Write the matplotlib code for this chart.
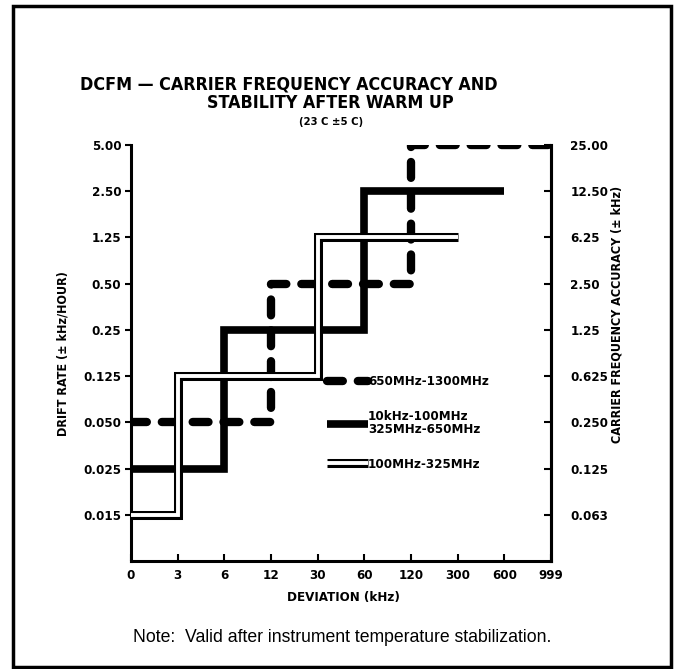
import numpy as np
import matplotlib
matplotlib.use("Agg")
import matplotlib.pyplot as plt
from matplotlib import font_manager
from matplotlib.patches import Rectangle
from matplotlib.legend_handler import HandlerTuple

# axis categories (equally spaced on the chart)
x_labels = ['0', '3', '6', '12', '30', '60', '120', '300', '600', '999']
y_left_labels = ['0.015', '0.025', '0.050', '0.125', '0.25', '0.50', '1.25', '2.50', '5.00']
y_right_labels = ['0.063', '0.125', '0.250', '0.625', '1.25', '2.50', '6.25', '12.50', '25.00']

# step series: x given as deviation label, y as drift-rate label
hi_band_x = ['0', '12', '12', '120', '120', '999']
hi_band_y = ['0.050', '0.050', '0.50', '0.50', '5.00', '5.00']

mid_band_x = ['0', '6', '6', '60', '60', '600']
mid_band_y = ['0.025', '0.025', '0.25', '0.25', '2.50', '2.50']

lo_band_x = ['0', '3', '3', '30', '30', '300']
lo_band_y = ['0.015', '0.015', '0.125', '0.125', '1.25', '1.25']

# pick a condensed bold face if one is installed
fonts = font_manager.fontManager.ttflist
if any(f.name == 'Liberation Sans Narrow' for f in fonts):
    cond = dict(family='Liberation Sans Narrow', fontstretch='normal')
    k = 1.0
elif any(f.name == 'DejaVu Sans' and f.stretch == 'condensed' for f in fonts):
    cond = dict(family='DejaVu Sans', fontstretch='condensed')
    k = 0.95
else:
    cond = dict(family='Liberation Sans', fontstretch='normal')
    k = 0.9
plt.rcParams['font.family'] = [cond['family'], 'DejaVu Sans']

def xi(labels):
    return [x_labels.index(v) for v in labels]

def yi(labels):
    return [y_left_labels.index(v) + 1 for v in labels]

W, H = 676, 669
fig = plt.figure(figsize=(W / 100, H / 100), dpi=100)

def fx(px):
    return px / W

def fy(py):
    return 1 - py / H

ax = fig.add_axes([fx(131), fy(561), fx(551) - fx(131), fy(145) - fy(561)])
ax.set_xlim(0, 9)
ax.set_ylim(0, 9)

# 650MHz-1300MHz dashed
l1, = ax.plot(xi(hi_band_x), yi(hi_band_y), color='black', lw=6, ls=(0, (1.9, 1.8)),
              dash_capstyle='round', solid_joinstyle='miter', zorder=3)
# 10kHz-100MHz / 325MHz-650MHz thick solid
l2, = ax.plot(xi(mid_band_x), yi(mid_band_y), color='black', lw=5.5,
              solid_joinstyle='miter', solid_capstyle='butt', zorder=4)
# 100MHz-325MHz double line
l3a, = ax.plot(xi(lo_band_x), yi(lo_band_y), color='black', lw=6.5,
               solid_joinstyle='miter', solid_capstyle='butt', zorder=5)
l3b, = ax.plot(xi(lo_band_x), yi(lo_band_y), color='white', lw=2.8,
               solid_joinstyle='miter', solid_capstyle='butt', zorder=6)

ax.spines['top'].set_visible(False)
for s in ['left', 'bottom', 'right']:
    ax.spines[s].set_linewidth(2.2)

tick_font = dict(fontsize=10 * k, fontweight='bold', fontstretch=cond['fontstretch'])
ax.set_xticks(range(10))
ax.set_xticklabels(x_labels, **tick_font)
ax.tick_params(axis='x', direction='in', length=5, width=1.5, pad=6)
ax.set_yticks(range(1, 10))
ax.set_yticklabels(y_left_labels, **tick_font)
ax.tick_params(axis='y', direction='out', length=4, width=1.5, pad=3, left=True, right=False)

ax2 = ax.twinx()
ax2.set_ylim(0, 9)
ax2.set_yticks(range(1, 10))
ax2.set_yticklabels(y_right_labels, **tick_font)
ax2.tick_params(axis='y', direction='in', length=5, width=1.5, pad=14)
for s in ['top', 'left', 'bottom']:
    ax2.spines[s].set_visible(False)
ax2.spines['right'].set_linewidth(2.2)

leg = ax.legend([l1, l2, (l3a, l3b)],
                ['650MHz-1300MHz', '10kHz-100MHz\n325MHz-650MHz', '100MHz-325MHz'],
                handler_map={tuple: HandlerTuple(ndivide=1)},
                loc='upper left', bbox_to_anchor=(0.45, 0.462), frameon=False,
                prop=dict(size=10 * k, weight='bold', stretch=cond['fontstretch'],
                          family=cond['family']),
                handlelength=3.1, handletextpad=0.05, labelspacing=1.65, borderpad=0)
for t in leg.get_texts():
    t.set_linespacing(1.0)

# titles and labels
bold = dict(fontweight='bold', fontstretch=cond['fontstretch'])
fig.text(fx(80), fy(85), 'DCFM \u2014 CARRIER FREQUENCY ACCURACY AND', fontsize=13.5 * k,
         ha='left', va='center', **bold)
fig.text(fx(330), fy(103), 'STABILITY AFTER WARM UP', fontsize=13.5 * k,
         ha='center', va='center', **bold)
fig.text(fx(331), fy(122), '(23 C \u00b15 C)', fontsize=8.5 * k,
         ha='center', va='center', **bold)
fig.text(fx(63), fy(354), 'DRIFT RATE (\u00b1 kHz/HOUR)', fontsize=9.5 * k,
         rotation=90, ha='center', va='center', **bold)
fig.text(fx(617), fy(314), 'CARRIER FREQUENCY ACCURACY (\u00b1 kHz)', fontsize=9.5 * k,
         rotation=90, ha='center', va='center', **bold)
fig.text(fx(343), fy(598), 'DEVIATION (kHz)', fontsize=10 * k,
         ha='center', va='center', **bold)
fig.text(fx(342), fy(638), 'Note:  Valid after instrument temperature stabilization.',
         fontsize=12.7, family=['Liberation Sans', 'DejaVu Sans'], ha='center', va='center')

# outer frame
fig.patches.append(Rectangle((fx(13), fy(667)), fx(671) - fx(13), fy(6) - fy(667),
                             transform=fig.transFigure, fill=False, lw=2.5,
                             edgecolor='black'))

fig.savefig('out.png', dpi=100, facecolor='white')
